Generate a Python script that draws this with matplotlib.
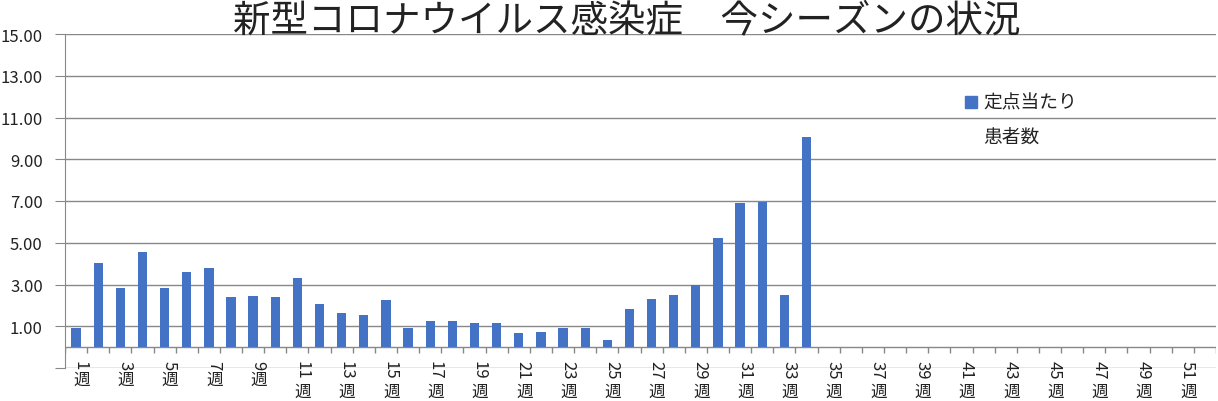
import matplotlib.pyplot as plt
import numpy as np
from matplotlib.patches import Rectangle

plt.rcParams['font.family'] = ['Noto Sans CJK JP', 'DejaVu Sans']

weeks = np.arange(1, 53)
values = [0.91, 4.02, 2.82, 4.55, 2.82, 3.59, 3.78, 2.39, 2.44, 2.39,
          3.30, 2.06, 1.63, 1.53, 2.25, 0.91, 1.24, 1.24, 1.15, 1.15,
          0.67, 0.72, 0.91, 0.91, 0.33, 1.82, 2.30, 2.49, 2.98, 5.22,
          6.89, 6.95, 2.49, 10.05]
yticks = np.arange(-1, 16, 2)
title = '新型コロナウイルス感染症\u3000今シーズンの状況'
legend_label = ['定点当たり', '患者数']

grid_c = '#888888'
bar_c = '#4472C4'

fig = plt.figure(figsize=(12.18, 4.02), dpi=100)
ax = fig.add_axes([65 / 1218, 1 - 369 / 402, 1151 / 1218, 334 / 402])

ax.bar(weeks[:len(values)], values, width=0.42, color=bar_c, zorder=3)

ax.set_xlim(0.5, 52.5)
ax.set_ylim(-1, 15)
ax.set_yticks(yticks)
ax.set_yticklabels(['' if v < 0 else f'{v:.2f}' for v in yticks], fontsize=12, color='#222222')
ax.yaxis.grid(True, color=grid_c, lw=1)
ax.tick_params(axis='y', length=7, color=grid_c, pad=9)
ax.set_xticks([])
for s in ['top', 'right', 'bottom']:
    ax.spines[s].set_visible(False)
ax.spines['left'].set_color(grid_c)

# category axis at zero, tick marks between categories
ax.axhline(0, color=grid_c, lw=1, zorder=2)
bounds = np.arange(len(weeks) + 1) + 0.5
ax.vlines(bounds, -0.29, 0, color=grid_c, lw=1)

# vertical-style week labels (digits turned, 週 upright below)
for w in weeks[::2]:
    s = str(w)
    ax.annotate(s, (w + 0.2, 0), xytext=(0, -13), textcoords='offset pixels',
                rotation=-90, ha='center', va='top', fontsize=12, color='#222222',
                annotation_clip=False)
    ax.annotate('週', (w + 0.25, 0), xytext=(0, -11 - 12.5 * len(s)), textcoords='offset pixels',
                ha='center', va='top', fontsize=12, color='#222222',
                annotation_clip=False)

fig.text(627 / 1218, 1 - 21 / 402, title, ha='center', va='center', fontsize=27, color='#222222')

# legend
fig.patches.append(Rectangle((965 / 1218, 1 - 109 / 402), 12 / 1218, 12 / 402,
                             transform=fig.transFigure, color=bar_c))
fig.text(983 / 1218, 1 - 103 / 402, legend_label[0], ha='left', va='center', fontsize=13.5, color='#222222')
fig.text(983 / 1218, 1 - 137 / 402, legend_label[1], ha='left', va='center', fontsize=13.5, color='#222222')

fig.savefig('out.png', dpi=100)
